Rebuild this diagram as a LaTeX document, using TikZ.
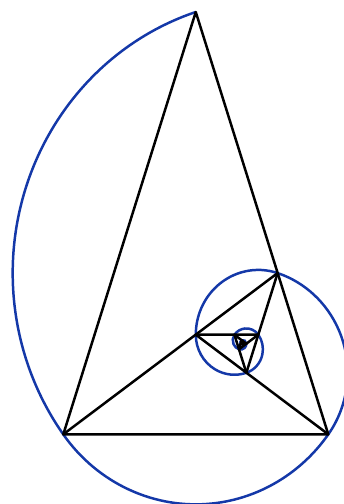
\documentclass[tikz,border=0pt]{standalone}
\usetikzlibrary{calc}

\definecolor{spiralblue}{RGB}{20,56,168}

\tikzset{
    edge/.style={line width=1.6pt, line join=round, line cap=round},
    spiral/.style={line width=1.6pt, spiralblue},
}

\begin{document}
\begin{tikzpicture}[scale=6, yscale=1.036]
    \useasboundingbox (-0.2389,-0.2539) rectangle (1.0592,1.5821);

    % golden triangle, apex on top
    \coordinate (P0) at (0.5,1.538842);
    \coordinate (P1) at (0,0);
    \coordinate (P2) at (1,0);
    \foreach \n in {3,...,18} {
        \pgfmathtruncatemacro\a{\n-3}
        \pgfmathtruncatemacro\c{\n-1}
        \coordinate (P\n) at ($(P\c)!0.381966!(P\a)$);
    }

    \draw [spiral]
        (P0)
        \foreach \n in {0,...,15} {
            arc [start angle={108*(\n+1)}, delta angle=108,
                 radius={0.618034^\n}]
        }
        ;

    \draw [edge]
        (P0) -- (P1) -- (P2) -- cycle
        ;
    \foreach \n in {1,...,15} {
        \pgfmathtruncatemacro\b{\n+2}
        \draw [edge] (P\n) -- (P\b);
    }
\end{tikzpicture}
\end{document}
